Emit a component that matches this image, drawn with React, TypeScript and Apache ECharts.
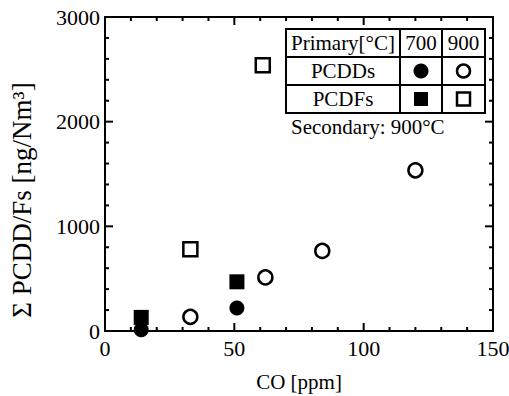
import React, { useEffect, useRef } from "react";
import * as echarts from "echarts";

const xTicks = [0, 50, 100, 150];
const yTicks = [0, 1000, 2000, 3000];
const xMinorStep = 10;
const yMinorStep = 200;
// [CO ppm, ΣPCDD/Fs ng/Nm3]
const pcdd700 = [[14, 12], [51, 220]];
const pcdf700 = [[14, 130], [51, 470]];
const pcdd900 = [[33, 135], [62, 512], [84, 765], [120, 1535]];
const pcdf900 = [[33, 780], [61, 2540]];
const legendHeader = ["Primary[°C]", "700", "900"];
const legendRows = ["PCDDs", "PCDFs"];
const note = "Secondary: 900°C";

const FONT = '"Liberation Serif", "Times New Roman", serif';

function tickList(ticks: number[], step: number) {
  const out: number[][] = [];
  const lo = ticks[0];
  const hi = ticks[ticks.length - 1];
  for (let v = lo; v <= hi + 1e-9; v += step) {
    out.push([v, ticks.some((t) => Math.abs(t - v) < 1e-9) ? 1 : 0]);
  }
  return out;
}

export default function App() {
  const ref = useRef<HTMLDivElement>(null);
  useEffect(() => {
    if (!ref.current) return;
    const chart = echarts.init(ref.current, null, { renderer: "svg" });
    const xMin = xTicks[0], xMax = xTicks[xTicks.length - 1];
    const yMin = yTicks[0], yMax = yTicks[yTicks.length - 1];
    const axisCommon = {
      type: "value" as const,
      axisLine: { show: true, onZero: false, lineStyle: { color: "#000", width: 2 } },
      axisTick: { show: false },
      minorTick: { show: false },
      splitLine: { show: false },
      minorSplitLine: { show: false },
    };
    const labelStyle = {
      color: "#000",
      fontFamily: FONT,
      fontSize: 22,
      formatter: (v: number) => String(v),
    };
    const ln = (x1: number, y1: number, x2: number, y2: number) => ({
      type: "line",
      shape: { x1, y1, x2, y2 },
      style: { stroke: "#000", lineWidth: 2 },
    });

    // legend table geometry
    const L = 286, C1 = 400, C2 = 442, R = 485;
    const T = 29, R1 = 57, R2 = 85, B = 113;
    const txt = (text: string, x: number, y: number, align = "center") => ({
      type: "text",
      style: { text, x, y, align, verticalAlign: "middle", fontFamily: FONT, fontSize: 21, fill: "#000" },
      z: 100,
    });
    const gl = (x1: number, y1: number, x2: number, y2: number) => ({
      type: "line",
      shape: { x1, y1, x2, y2 },
      style: { stroke: "#000", lineWidth: 2 },
      z: 100,
    });

    chart.setOption({
      animation: false,
      backgroundColor: "#fff",
      textStyle: { fontFamily: FONT },
      grid: { left: 105, right: 16, top: 17, bottom: 65, containLabel: false, outerBoundsMode: "none" },
      xAxis: [
        {
          ...axisCommon,
          position: "bottom",
          min: xMin,
          max: xMax,
          interval: 50,
          axisLabel: { ...labelStyle, margin: 6 },
          name: "CO [ppm]",
          nameLocation: "middle",
          nameGap: 40,
          nameTextStyle: { color: "#000", fontFamily: FONT, fontSize: 21 },
        },
        { ...axisCommon, position: "top", min: xMin, max: xMax, interval: 50, axisLabel: { show: false } },
      ],
      yAxis: [
        {
          ...axisCommon,
          position: "left",
          min: yMin,
          max: yMax,
          interval: 1000,
          axisLabel: { ...labelStyle, margin: 5 },
          name: "Σ PCDD/Fs [ng/Nm³]",
          nameLocation: "middle",
          nameRotate: 90,
          nameGap: 70,
          nameTextStyle: { color: "#000", fontFamily: FONT, fontSize: 27, padding: [0, 52, 0, 0] },
        },
        { ...axisCommon, position: "right", min: yMin, max: yMax, interval: 1000, axisLabel: { show: false } },
      ],
      series: [
        {
          type: "custom",
          name: "xTicks",
          data: tickList(xTicks, xMinorStep),
          renderItem: (_p: any, api: any) => {
            const v = api.value(0);
            const len = api.value(1) ? 8 : 4;
            const b = api.coord([v, yMin]);
            const t = api.coord([v, yMax]);
            return {
              type: "group",
              children: [ln(b[0], b[1], b[0], b[1] - len), ln(t[0], t[1], t[0], t[1] + len)],
            };
          },
        },
        {
          type: "custom",
          name: "yTicks",
          data: tickList(yTicks, yMinorStep).map((d) => [xMin, d[0], d[1]]),
          renderItem: (_p: any, api: any) => {
            const v = api.value(1);
            const len = api.value(2) ? 8 : 4;
            const l = api.coord([xMin, v]);
            const r = api.coord([xMax, v]);
            return {
              type: "group",
              children: [ln(l[0], l[1], l[0] + len, l[1]), ln(r[0], r[1], r[0] - len, r[1])],
            };
          },
        },
        { type: "scatter", name: "PCDDs 700", data: pcdd700, symbol: "circle", symbolSize: 15, itemStyle: { color: "#000", opacity: 1 } },
        { type: "scatter", name: "PCDFs 700", data: pcdf700, symbol: "rect", symbolSize: 15, itemStyle: { color: "#000", opacity: 1 } },
        { type: "scatter", name: "PCDDs 900", data: pcdd900, symbol: "circle", symbolSize: 14, itemStyle: { color: "#fff", borderColor: "#000", borderWidth: 2.5, opacity: 1 } },
        { type: "scatter", name: "PCDFs 900", data: pcdf900, symbol: "rect", symbolSize: 14, itemStyle: { color: "#fff", borderColor: "#000", borderWidth: 2.5, opacity: 1 } },
      ],
      graphic: [
        { type: "rect", shape: { x: L, y: T, width: R - L, height: B - T }, style: { fill: "#fff", stroke: "#000", lineWidth: 2 }, z: 99 },
        gl(L, R1, R, R1),
        gl(L, R2, R, R2),
        gl(C1, T, C1, B),
        gl(C2, T, C2, B),
        txt(legendHeader[0], (L + C1) / 2, (T + R1) / 2),
        txt(legendHeader[1], (C1 + C2) / 2, (T + R1) / 2),
        txt(legendHeader[2], (C2 + R) / 2, (T + R1) / 2),
        txt(legendRows[0], (L + C1) / 2, (R1 + R2) / 2),
        txt(legendRows[1], (L + C1) / 2, (R2 + B) / 2),
        { type: "circle", shape: { cx: (C1 + C2) / 2, cy: (R1 + R2) / 2, r: 7.5 }, style: { fill: "#000" }, z: 100 },
        { type: "circle", shape: { cx: (C2 + R) / 2, cy: (R1 + R2) / 2, r: 6.5 }, style: { fill: "#fff", stroke: "#000", lineWidth: 2.5 }, z: 100 },
        { type: "rect", shape: { x: (C1 + C2) / 2 - 7, y: (R2 + B) / 2 - 7, width: 14, height: 14 }, style: { fill: "#000" }, z: 100 },
        { type: "rect", shape: { x: (C2 + R) / 2 - 6.5, y: (R2 + B) / 2 - 6.5, width: 13, height: 13 }, style: { fill: "#fff", stroke: "#000", lineWidth: 2.5 }, z: 100 },
        txt(note, 291, 127, "left"),
      ],
    });
    return () => chart.dispose();
  }, []);
  return (
    <div
      ref={ref}
      style={{ position: "fixed", left: 0, top: 0, width: 509, height: 396, background: "#fff" }}
    />
  );
}
